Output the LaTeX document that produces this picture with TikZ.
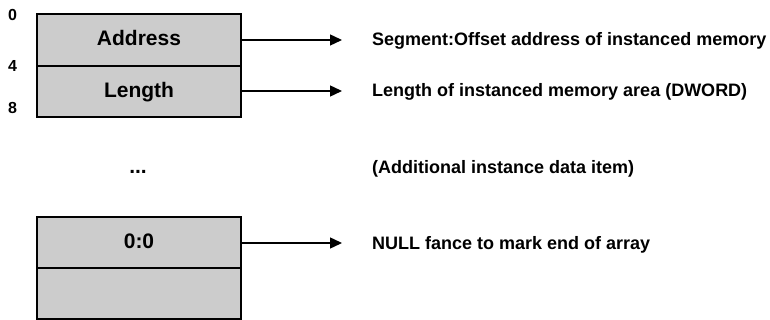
\documentclass[tikz,border=0pt]{standalone}
\usepackage{fontspec}
\setmainfont{Liberation Sans}
\usetikzlibrary{arrows.meta}
\definecolor{boxgray}{RGB}{204,204,204}
\tikzset{
  cell/.style={draw=black, line width=2pt, fill=boxgray, rectangle,
    minimum width=204pt, minimum height=51.4pt, inner sep=0pt,
    font=\fontsize{21}{24}\selectfont\bfseries, text height=14.5pt, text depth=3pt},
  desc/.style={anchor=base west, inner sep=0pt, font=\fontsize{18}{21}\selectfont\bfseries},
  offs/.style={anchor=base, inner sep=0pt, font=\fontsize{16}{18}\selectfont\bfseries},
  ptr/.style={line width=1.4pt, -{Triangle[length=12pt,width=11pt]}}
}
\begin{document}
\begin{tikzpicture}[x=1pt,y=-1pt]
\useasboundingbox (0,0) rectangle (770,320);
% offsets
\node[offs] (o0) at (12.5,21) {0};
\node[offs] (o4) at (12.5,71.5) {4};
\node[offs] (o8) at (12.5,113.5) {8};
% first record
\node[cell] (addr) at (139,40) {Address};
\node[cell] (len) at (139,91.3) {Length};
% ellipsis
\node[anchor=base, inner sep=0pt, font=\fontsize{21}{24}\selectfont\bfseries] (dots) at (138,174) {...};
% terminator
\node[cell] (null) at (139,243) {0:0};
\node[cell] (empty) at (139,293.5) {};
% arrow ends
\coordinate (e1) at (342,40);
\coordinate (e2) at (342,91);
\coordinate (e3) at (342,243);
\draw[ptr] (addr.east |- e1) -- (e1);
\draw[ptr] (len.east |- e2) -- (e2);
\draw[ptr] (null.east |- e3) -- (e3);
% descriptions
\node[desc] (d1) at (372,45.7) {Segment:Offset address of instanced memory};
\node[desc] (d2) at (372,97) {Length of instanced memory area (DWORD)};
\node[desc] (d3) at (372,174) {(Additional instance data item)};
\node[desc] (d4) at (372,249.3) {NULL fance to mark end of array};
\end{tikzpicture}
\end{document}
